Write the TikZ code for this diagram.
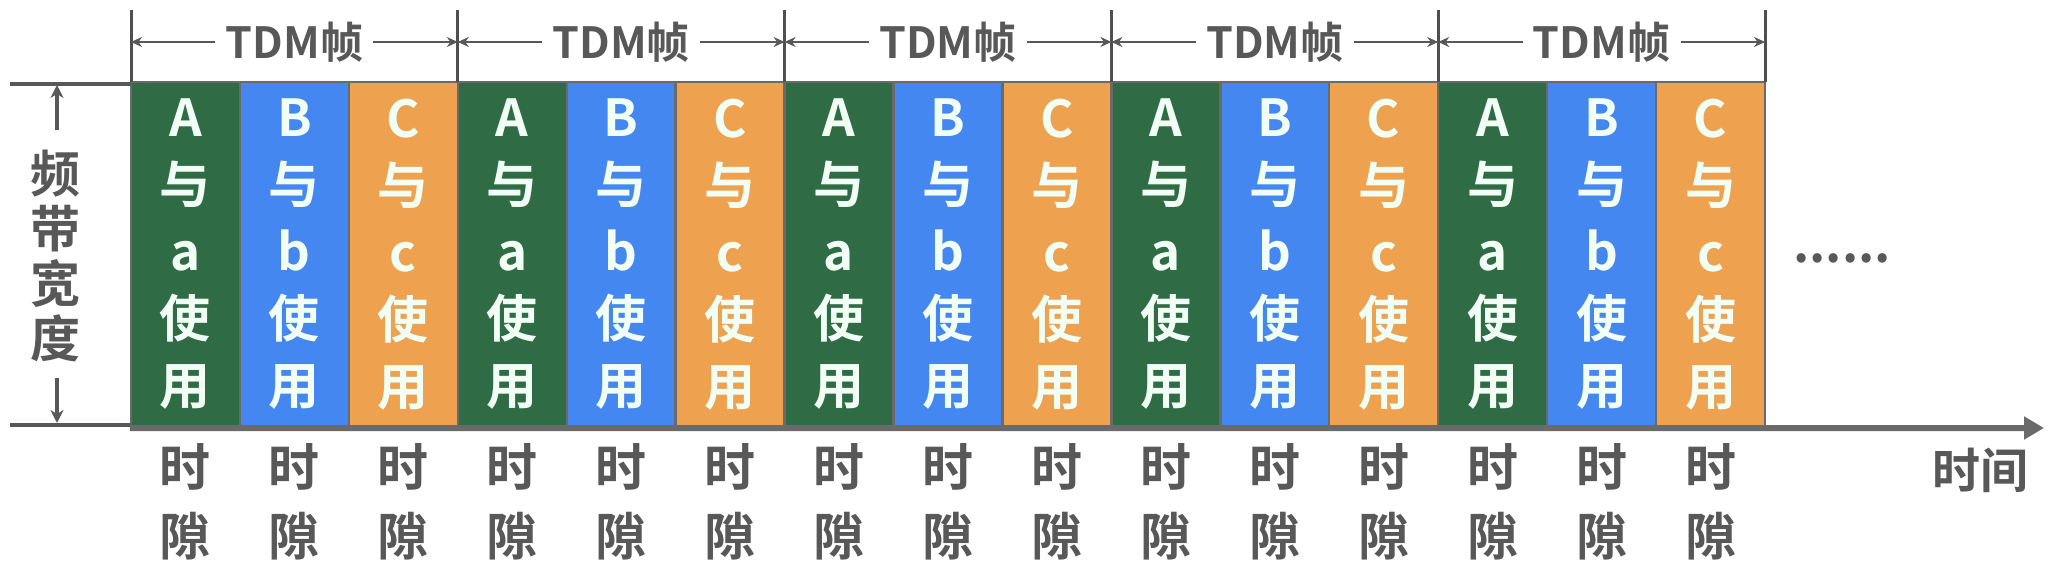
\documentclass[tikz,border=0pt]{standalone}
\usepackage{fontspec}
\setmainfont{Noto Sans CJK SC}[BoldFont={Noto Sans CJK SC Bold}]
\usetikzlibrary{arrows.meta}
\definecolor{cgreen}{HTML}{2F6B45}
\definecolor{cblue}{HTML}{4487F0}
\definecolor{corange}{HTML}{EEA14F}
\definecolor{cgray}{HTML}{585858}
\definecolor{cline}{HTML}{6A6A6A}
\definecolor{ctext}{HTML}{F2FFF4}
\begin{document}
\begin{tikzpicture}[x=0.5pt,y=-0.5pt,
  slotbox/.style={draw=cline, line width=1.2pt, minimum width=54.46pt, minimum height=172.5pt,
    inner sep=0pt, text=ctext, font=\fontsize{25.5}{33.5}\selectfont\bfseries, align=center},
  slotlbl/.style={text=cgray, font=\fontsize{25.5}{34.5}\selectfont\bfseries, align=center, inner sep=0pt},
  framelbl/.style={text=cgray, font=\fontsize{21.5}{24}\selectfont\bfseries, inner sep=5pt},
  tick/.style={draw=cgray!90!black, line width=1.5pt},
  dimline/.style={draw=cgray, line width=1.1pt, -{Stealth[length=5.5pt,width=5pt]}},
  bandline/.style={draw=cgray, line width=2.2pt},
  bandarrow/.style={draw=cgray, line width=1.8pt, -{Stealth[length=6.5pt,width=6.5pt]}},
  axisline/.style={draw=cline, line width=3pt, -{Triangle[length=10pt,width=11pt]}},
  sidelbl/.style={text=cgray, font=\fontsize{25}{27.5}\selectfont\bfseries, align=center, inner sep=0pt}]
\useasboundingbox (0,0) rectangle (2054,576);
% slots
\foreach \i/\col/\U/\l in {0/cgreen/A/a,1/cblue/B/b,2/corange/C/c,
  3/cgreen/A/a,4/cblue/B/b,5/corange/C/c,
  6/cgreen/A/a,7/cblue/B/b,8/corange/C/c,
  9/cgreen/A/a,10/cblue/B/b,11/corange/C/c,
  12/cgreen/A/a,13/cblue/B/b,14/corange/C/c}{
  \node[slotbox, fill=\col] (s\i) at ({185.47+108.93*\i},254.5) {\U\\与\\\l\\使\\用};
  \node[slotlbl] (t\i) at ({185.47+108.93*\i},502) {时\\隙};
}
% frame ticks
\foreach \j in {0,...,5}{
  \coordinate (ka\j) at ({131+326.8*\j},10);
  \coordinate (kb\j) at ({131+326.8*\j},82);
  \coordinate (km\j) at ({131+326.8*\j},42);
  \draw[tick] (ka\j) -- (kb\j);
}
% frame labels
\foreach \j [evaluate=\j as \k using int(\j+1)] in {0,...,4}{
  \node[framelbl] (f\j) at ({294.4+326.8*\j},42) {TDM帧};
  \draw[dimline] (f\j) -- (km\j);
  \draw[dimline] (f\j) -- (km\k);
}
% band width
\coordinate (bl1) at (10,84);
\coordinate (bl2) at (10,425);
\coordinate (br1) at (131,84);
\coordinate (br2) at (131,425);
\coordinate (ua) at (57,130);
\coordinate (ub) at (57,85);
\coordinate (da) at (57,378);
\coordinate (db) at (57,423);
\draw[bandline] (bl1) -- (br1);
\draw[bandline] (bl2) -- (br2);
\draw[bandarrow] (ua) -- (ub);
\draw[bandarrow] (da) -- (db);
\node[sidelbl] (bw) at (56,256) {频\\带\\宽\\度};
% time axis
\coordinate (axend) at (2044,428);
\draw[axisline] (s0.south west) -- (axend);
\node[text=cgray, font=\fontsize{24}{28}\selectfont\bfseries, inner sep=0pt] (tl) at (1980,470) {时间};
\node[text=cgray, font=\fontsize{25}{30}\selectfont\bfseries, inner sep=0pt, anchor=base] (dots) at (1842,263) {......};
\end{tikzpicture}
\end{document}
